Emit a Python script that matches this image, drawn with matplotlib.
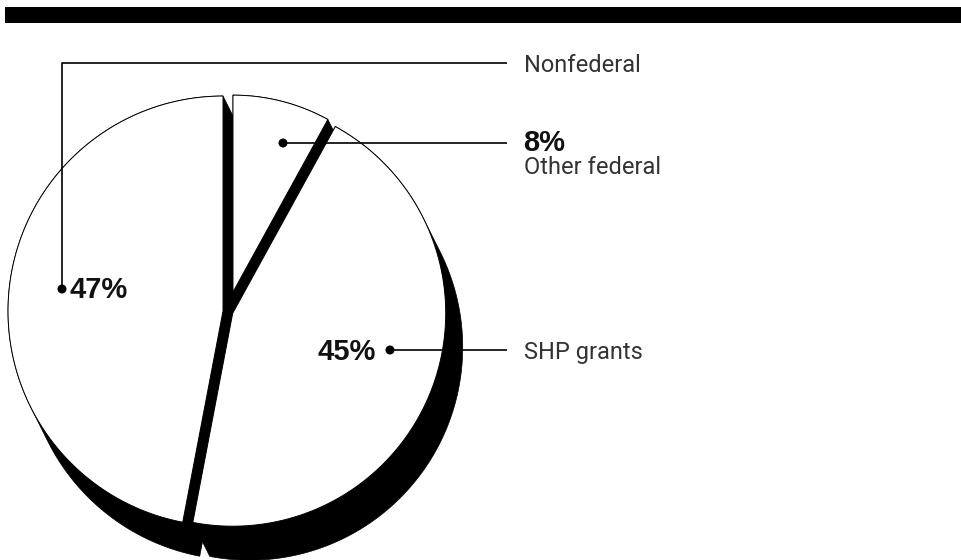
import matplotlib
matplotlib.use("Agg")
import matplotlib.pyplot as plt
import numpy as np
from matplotlib.patches import Polygon, Circle

# Data
labels = ["Nonfederal", "Other federal", "SHP grants"]
shares = [47, 8, 45]
pct_labels = ["47%", "8%", "45%"]

# Layout (pixel coordinates, y down)
W, H = 961, 560
center = np.array([228.0, 311.5])
explode = [5.0, 20.0, 5.0]
radii = [215.0, 197.0, 213.0]
depth = np.array([17.0, 34.0])   # extrusion offset of the black "shadow"


def convex_hull(pts):
    pts = sorted(map(tuple, pts))

    def cross(o, a, b):
        return (a[0] - o[0]) * (b[1] - o[1]) - (a[1] - o[1]) * (b[0] - o[0])

    lower, upper = [], []
    for p in pts:
        while len(lower) >= 2 and cross(lower[-2], lower[-1], p) <= 0:
            lower.pop()
        lower.append(p)
    for p in reversed(pts):
        while len(upper) >= 2 and cross(upper[-2], upper[-1], p) <= 0:
            upper.pop()
        upper.append(p)
    return np.array(lower[:-1] + upper[:-1])


# Angles: Nonfederal runs counter-clockwise from 12 o'clock,
# the others clockwise from 12 o'clock.
deg = [s * 3.6 for s in shares]
spans = [
    (90.0, 90.0 + deg[0]),
    (90.0 - deg[1], 90.0),
    (90.0 - deg[1] - deg[2], 90.0 - deg[1]),
]

wedges = []
for (a0, a1), e, r in zip(spans, explode, radii):
    mid = np.radians((a0 + a1) / 2)
    apex = center + e * np.array([np.cos(mid), -np.sin(mid)])
    t = np.radians(np.linspace(a0, a1, 200))
    arc = np.column_stack([apex[0] + r * np.cos(t), apex[1] - r * np.sin(t)])
    wedges.append(np.vstack([apex, arc]))

fig = plt.figure(figsize=(W / 100, H / 100), dpi=100)
ax = fig.add_axes([0, 0, 1, 1])
ax.set_xlim(0, W)
ax.set_ylim(H, 0)
ax.set_aspect("equal")
ax.axis("off")

# top bar
ax.add_patch(plt.Rectangle((5, 7), W - 5, 16, color="black", lw=0))

# black extrusion
for poly in wedges:
    hull = convex_hull(np.vstack([poly, poly + depth]))
    ax.add_patch(Polygon(hull, closed=True, facecolor="black", edgecolor="black", lw=0.5))

# white faces
for poly in wedges:
    ax.add_patch(Polygon(poly, closed=True, facecolor="white", edgecolor="black", lw=0.7))

line_kw = dict(color="black", lw=1.2, solid_capstyle="butt")
reg = dict(family=["Roboto", "DejaVu Sans"], fontweight="normal", fontsize=17, color="#333333")
bold = dict(family=["Liberation Sans", "DejaVu Sans"], fontweight="bold", fontsize=21, color="#111111")
text_x = 524

# Nonfederal
ax.plot([62, 62, 507], [289, 63, 63], **line_kw)
ax.add_patch(Circle((62, 289), 3.8, color="black"))
ax.text(70, 290, pct_labels[0], va="center", ha="left", **bold)
ax.text(text_x, 65, labels[0], va="center", ha="left", **reg)

# Other federal
ax.plot([283, 507], [143, 143], **line_kw)
ax.add_patch(Circle((283, 143), 3.8, color="black"))
ax.text(text_x - 1, 143, pct_labels[1], va="center", ha="left", **bold)
ax.text(text_x, 167, labels[1], va="center", ha="left", **reg)

# SHP grants
ax.plot([390, 507], [350, 350], **line_kw)
ax.add_patch(Circle((390, 350), 3.8, color="black"))
ax.text(376, 352, pct_labels[2], va="center", ha="right", **bold)
ax.text(text_x, 352, labels[2], va="center", ha="left", **reg)

fig.savefig("out.png", dpi=100)
